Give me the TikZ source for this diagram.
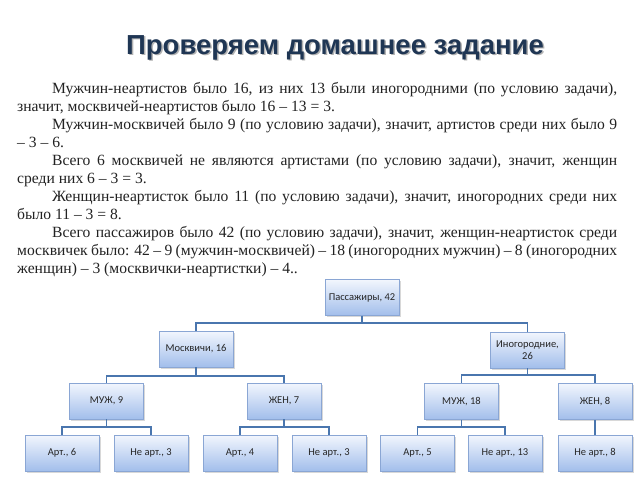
\documentclass[tikz,border=0pt]{standalone}
\usepackage{fontspec}
\setmainfont{Liberation Serif}
\newfontfamily\boxfont{Carlito}
\newfontfamily\titlefont{Liberation Sans}
\usetikzlibrary{shadows}
\definecolor{linec}{HTML}{4A76AE}
\definecolor{boxtop}{HTML}{F2F6FD}
\definecolor{boxbot}{HTML}{A2BEEB}
\definecolor{boxborder}{HTML}{8AA6D4}
\definecolor{titlec}{HTML}{1F3654}
\definecolor{bodyc}{HTML}{222222}
\begin{document}
\begin{tikzpicture}[x=1pt,y=-1pt,
  box/.style={draw=boxborder, line width=0.6pt, top color=boxtop, bottom color=boxbot,
    minimum width=74pt, minimum height=36pt, inner sep=1pt, align=center,
    drop shadow={shadow xshift=1.5pt, shadow yshift=-1.5pt, fill=black!30},
    font=\boxfont\fontsize{10.5}{11.5}\selectfont, text=black!85},
  conn/.style={draw=linec, line width=1.9pt}]
\useasboundingbox (0,0) rectangle (640,480);
\fill[white] (0,0) rectangle (640,480);
% title
\node[text=gray!60, font=\titlefont\bfseries\fontsize{27.5}{30}\selectfont] (titleshadow) at (336.5,49) {Проверяем домашнее задание};
\node[text=titlec, font=\titlefont\bfseries\fontsize{27.5}{30}\selectfont] (title) at (335,47.5) {Проверяем домашнее задание};
% body text
\node[anchor=north west, inner sep=0pt, text width=600pt, align=justify, text=bodyc,
  font=\fontsize{15.6}{18}\selectfont] (body) at (17,82) {\setlength{\parindent}{35pt}\indent
Мужчин-неартистов было 16, из них 13 были иногородними (по условию задачи),\linebreak
значит, москвичей-неартистов было 16 – 13 = 3.\par
Мужчин-москвичей было 9 (по условию задачи), значит, артистов среди них было 9 \linebreak
– 3 – 6.\par
Всего 6 москвичей не являются артистами (по условию задачи), значит, женщин\linebreak
среди них 6 – 3 = 3.\par
Женщин-неартисток было 11 (по условию задачи), значит, иногородних среди них\linebreak
было 11 – 3 = 8.\par
Всего пассажиров было 42 (по условию задачи), значит, женщин-неартисток среди\linebreak
москвичек было: 42 – 9 (мужчин-москвичей) – 18 (иногородних мужчин) – 8 (иногородних\linebreak
женщин) – 3 (москвички-неартистки) – 4..\par};
% tree
\node[box] (pas) at (362,297.5) {Пассажиры, 42};
\node[box] (mosk) at (196,349) {Москвичи, 16};
\node[box] (inog) at (527.5,350) {Иногородние,\\ 26};
\node[box] (m9) at (106.5,401) {МУЖ, 9};
\node[box] (w7) at (284,401) {ЖЕН, 7};
\node[box] (m18) at (461.5,401.5) {МУЖ, 18};
\node[box] (w8) at (595,401.5) {ЖЕН, 8};
\node[box] (a6) at (62,453) {Арт., 6};
\node[box] (n3) at (151,453) {Не арт., 3};
\node[box] (a4) at (240,453) {Арт., 4};
\node[box] (n3b) at (329,453) {Не арт., 3};
\node[box] (a5) at (417.5,453) {Арт., 5};
\node[box] (n13) at (505,453) {Не арт., 13};
\node[box] (n8) at (595,453) {Не арт., 8};
\draw[conn] (pas.south) -- ++(0,7) -| (mosk.north);
\draw[conn] (pas.south) -- ++(0,7) -| (inog.north);
\draw[conn] (mosk.south) -- ++(0,9) -| (m9.north);
\draw[conn] (mosk.south) -- ++(0,9) -| (w7.north);
\draw[conn] (inog.south) -- ++(0,7) -| (m18.north);
\draw[conn] (inog.south) -- ++(0,7) -| (w8.north);
\draw[conn] (m9.south) -- ++(0,8) -| (a6.north);
\draw[conn] (m9.south) -- ++(0,8) -| (n3.north);
\draw[conn] (w7.south) -- ++(0,8) -| (a4.north);
\draw[conn] (w7.south) -- ++(0,8) -| (n3b.north);
\draw[conn] (m18.south) -- ++(0,7) -| (a5.north);
\draw[conn] (m18.south) -- ++(0,7) -| (n13.north);
\draw[conn] (w8.south) -- (n8.north);
\end{tikzpicture}
\end{document}
